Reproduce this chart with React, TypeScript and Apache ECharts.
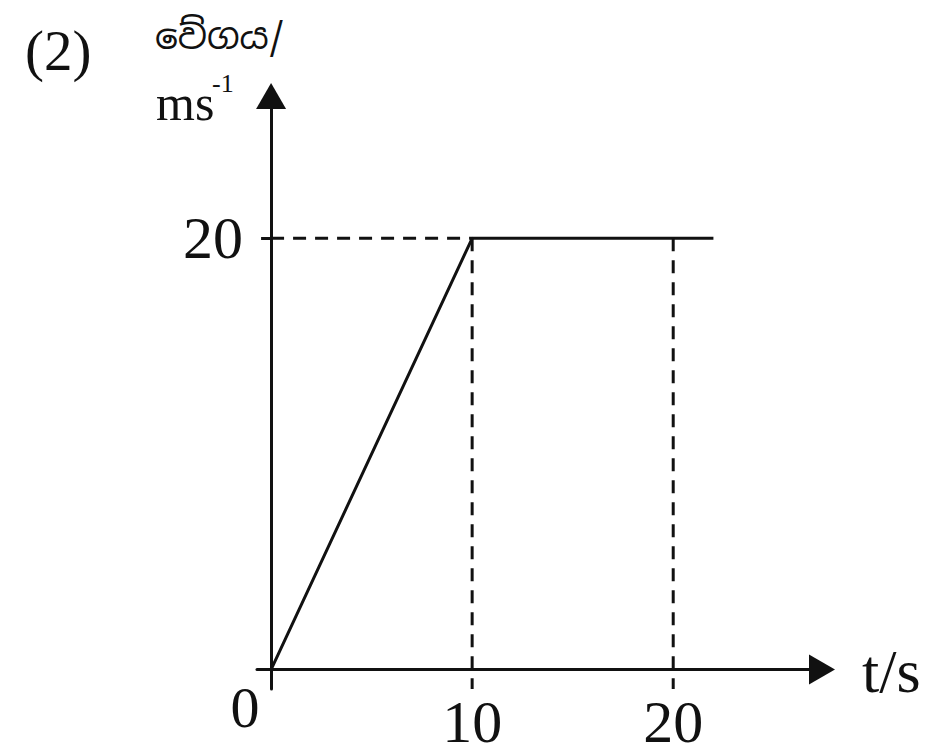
import React, { useEffect, useRef } from "react";
import * as echarts from "echarts";

// ---- data ----
const xTickValues = [0, 10, 20];
const yTickValues = [20];
const velocityLine: [number, number][] = [
  [0, 0],
  [10, 20],
  [22, 20],
];
const yBelow = -0.9;
const dashTo20: [number, number][] = [
  [0, 20],
  [10, 20],
];
const dashAt10: [number, number][] = [
  [10, 20],
  [10, yBelow],
];
const dashAt20: [number, number][] = [
  [20, 20],
  [20, yBelow],
];
const xAxisName = "t/s";
const yAxisNameTop = "වේගය/";
const yAxisUnit = "ms";
const yAxisUnitSup = "-1";
const panelTag = "(2)";

const INK = "#111111";
const SERIF = "'Liberation Serif', 'DejaVu Serif', serif";

export default function App() {
  const ref = useRef<HTMLDivElement>(null);
  useEffect(() => {
    if (!ref.current) return;
    const chart = echarts.init(ref.current, undefined, { renderer: "svg" });
    const dashStyle = { color: INK, width: 3, type: [13, 9] as number[] };
    chart.setOption({
      animation: false,
      backgroundColor: "#ffffff",
      grid: {
        left: 257,
        right: 108,
        top: 96,
        bottom: 67,
        containLabel: false,
        outerBoundsMode: "none",
      },
      xAxis: {
        type: "value",
        min: -0.7,
        max: 27.4,
        splitLine: { show: false },
        axisLine: {
          show: true,
          onZero: true,
          symbol: ["none", "triangle"],
          symbolSize: [30, 26],
          lineStyle: { color: INK, width: 3 },
        },
        axisTick: { show: false },
        axisLabel: {
          show: true,
          customValues: xTickValues,
          margin: 3,
          color: INK,
          fontFamily: SERIF,
          fontSize: 60,
          lineHeight: 60,
          hideOverlap: false,
          formatter: (v: number) => (v === 0 ? "{z|0}" : "{n|" + v + "}"),
          rich: {
            z: { fontSize: 58, fontFamily: SERIF, color: INK, lineHeight: 30, padding: [0, 52, 0, 0] },
            n: { fontSize: 60, fontFamily: SERIF, color: INK, lineHeight: 60 },
          },
        },
      },
      yAxis: {
        type: "value",
        min: yBelow,
        max: 26.6,
        splitLine: { show: false },
        axisLine: {
          show: true,
          onZero: true,
          symbol: ["none", "triangle"],
          symbolSize: [30, 26],
          lineStyle: { color: INK, width: 3 },
        },
        axisTick: {
          show: true,
          customValues: yTickValues,
          length: 10,
          lineStyle: { color: INK, width: 3 },
        },
        axisLabel: {
          show: true,
          customValues: yTickValues,
          margin: 14,
          color: INK,
          fontFamily: SERIF,
          fontSize: 60,
        },
      },
      series: [
        {
          type: "line",
          data: velocityLine,
          symbol: "none",
          silent: true,
          lineStyle: { color: INK, width: 3 },
          z: 3,
        },
        { type: "line", data: dashTo20, symbol: "none", silent: true, lineStyle: dashStyle },
        { type: "line", data: dashAt10, symbol: "none", silent: true, lineStyle: dashStyle, clip: false },
        { type: "line", data: dashAt20, symbol: "none", silent: true, lineStyle: dashStyle, clip: false },
      ],
      graphic: [
        {
          type: "text",
          left: 25,
          top: 22,
          style: { text: panelTag, fill: INK, font: `57px ${SERIF}` },
        },
        {
          type: "text",
          left: 155,
          top: 18,
          style: {
            text: yAxisNameTop,
            fill: INK,
            font: `36px 'Noto Sans Sinhala', 'Noto Serif Sinhala', ${SERIF}`,
          },
        },
        {
          type: "text",
          left: 156,
          top: 78,
          style: { text: yAxisUnit, fill: INK, font: `50px ${SERIF}` },
        },
        {
          type: "text",
          left: 212,
          top: 70,
          style: { text: yAxisUnitSup, fill: INK, font: `26px ${SERIF}` },
        },
        {
          type: "text",
          left: 862,
          top: 640,
          style: { text: xAxisName, fill: INK, font: `62px ${SERIF}` },
        },
      ],
    });
    return () => chart.dispose();
  }, []);
  return (
    <div
      ref={ref}
      style={{ position: "fixed", left: 0, top: 0, width: 930, height: 756, background: "#fff" }}
    />
  );
}
